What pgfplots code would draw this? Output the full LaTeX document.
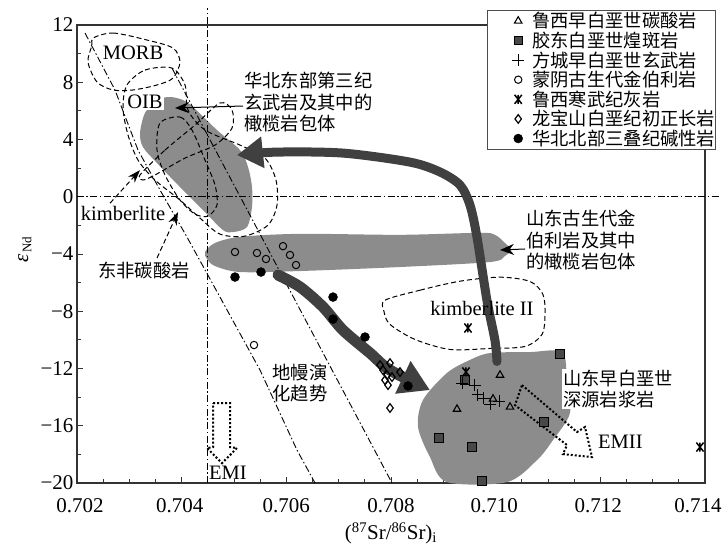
\documentclass[border=0pt]{standalone}
\usepackage{fontspec}
\setmainfont{Liberation Serif}
\newfontfamily\cjk{Noto Sans CJK SC}
\usepackage{pgfplots}
\pgfplotsset{compat=1.18}
\usetikzlibrary{arrows.meta}
\definecolor{fillgray}{RGB}{140,140,140}
\definecolor{arrowgray}{RGB}{64,64,64}
\definecolor{sqgray}{RGB}{72,72,72}
\pgfdeclareplotmark{zhe}{%
  \pgfpathmoveto{\pgfqpoint{-0.8\pgfplotmarksize}{-\pgfplotmarksize}}%
  \pgfpathlineto{\pgfqpoint{0.8\pgfplotmarksize}{\pgfplotmarksize}}%
  \pgfpathmoveto{\pgfqpoint{-0.8\pgfplotmarksize}{\pgfplotmarksize}}%
  \pgfpathlineto{\pgfqpoint{0.8\pgfplotmarksize}{-\pgfplotmarksize}}%
  \pgfpathmoveto{\pgfqpoint{0pt}{-\pgfplotmarksize}}%
  \pgfpathlineto{\pgfqpoint{0pt}{\pgfplotmarksize}}%
  \pgfusepathqstroke}
\tikzset{
  dd/.style={black, line width=0.9pt, dash pattern=on 7pt off 2.5pt on 1.5pt off 2.5pt},
  dsh/.style={black, line width=1pt, dash pattern=on 5pt off 3pt},
  dtt/.style={black, line width=2pt, dash pattern=on 2pt off 2pt},
  cn/.style={font=\cjk\fontsize{18.3}{21.5}\selectfont, align=left, inner sep=1pt},
  lt/.style={font=\fontsize{20.5}{22}\selectfont, inner sep=1pt},
}
\pgfplotsset{lg/.style={legend image code/.code={\path[draw=none,fill=none] (0pt,-5pt) rectangle (45pt,5pt); \draw[##1] plot coordinates {(31pt,0pt)};}}}
\newcommand{\legent}[1]{\addlegendentry{#1\hspace{20pt}}}
\begin{document}
\begin{tikzpicture}
\useasboundingbox (-77pt,-69pt) rectangle (646pt,483pt);
\begin{axis}[
  at={(0pt,0pt)}, anchor=south west,
  scale only axis, width=628pt, height=458pt,
  xmin=0.702, xmax=0.714, ymin=-20, ymax=12,
  clip=false,
  xtick={0.702,0.704,0.706,0.708,0.710,0.712,0.714},
  xticklabels={\hspace{6pt}0.702,\hspace{-4pt}0.704,0.706,0.708,\hspace{-3pt}0.710,\hspace{-4pt}0.712,\hspace{-14pt}0.714},
  ytick={-20,-16,-12,-8,-4,0,4,8,12},
  yticklabels={−20,−16,−12,−8,−4,0,4,8,12},
  minor x tick num=3, minor y tick num=1,
  tick align=inside, tick pos=left,
  major tick length=6pt, minor tick length=4pt,
  axis line style={line width=1.3pt, black!80},
  every tick/.style={black!80, line width=0.8pt},
  ticklabel style={font=\fontsize{21}{21}\selectfont},
  xticklabel style={yshift=-12pt},
  xlabel={(\textsuperscript{87}Sr/\textsuperscript{86}Sr)\textsubscript{i}},
  xlabel style={at={(axis description cs:0.5,-0.11)}, anchor=center, font=\fontsize{21}{21}\selectfont},
  ylabel={{\itshape ε}\kern1pt\raisebox{-0.35ex}{\fontsize{13}{13}\selectfont Nd}},
  ylabel style={at={(axis description cs:-0.083,0.51)}, anchor=center, font=\fontsize{21}{21}\selectfont},
  legend style={at={(0.6529,1.0328)}, anchor=north west, draw=black!70, fill=white,
    font=\cjk\fontsize{18.3}{20}\selectfont, inner xsep=0pt, inner ysep=1pt,
    cells={anchor=west}, nodes={inner xsep=0pt, inner ysep=1.3pt}},
]
% ---- gray fields
\addplot[forget plot, draw=none, fill=fillgray, smooth cycle] coordinates {
(0.703204,4.45) (0.703299,5.85) (0.703529,6.76) (0.703777,6.97) (0.704025,6.76) (0.704217,6.27)
(0.704675,4.66) (0.705115,3.26) (0.705268,2.08) (0.705344,0.68) (0.705344,-0.72) (0.705248,-2.12)
(0.704981,-2.47) (0.704790,-2.33) (0.704408,-0.93) (0.703968,0.68) (0.703529,2.35) (0.703261,3.47)};
\addplot[forget plot, draw=none, fill=fillgray, smooth cycle] coordinates {
(0.704446,-3.86) (0.704637,-3.23) (0.705115,-2.80) (0.706261,-2.59) (0.708172,-2.66) (0.709701,-2.52)
(0.709987,-2.66) (0.710178,-3.23) (0.710293,-3.72) (0.710178,-4.14) (0.709892,-4.56) (0.708172,-4.91)
(0.706261,-5.19) (0.705115,-5.26) (0.704637,-4.84) (0.704484,-4.35)};
\addplot[forget plot, draw=none, fill=fillgray, smooth cycle, tension=0.5] coordinates {
(0.709892,-10.92) (0.710656,-10.85) (0.711267,-10.85) (0.711363,-12.80) (0.711420,-15.11) (0.711095,-17.00)
(0.710790,-18.40) (0.710216,-19.94) (0.709070,-19.94) (0.708745,-18.19) (0.708516,-16.09) (0.708611,-14.20)
(0.709070,-12.31) (0.709509,-11.40)};
% ---- reference lines
\addplot[forget plot, dd] coordinates {(0.702,0) (0.71429,0)};
\addplot[forget plot, dd] coordinates {(0.7045,-20) (0.7045,13.2)};
\addplot[forget plot, dd] coordinates {(0.702153,11.44) (0.702726,7.46) (0.703166,3.26) (0.703586,0.47) (0.704102,-2.82) (0.704732,-7.01) (0.705497,-12.11) (0.706204,-17.70) (0.706548,-20)};
\addplot[forget plot, dd] coordinates {(0.703815,8.99) (0.708019,-20)};
% ---- dashed fields
\addplot[forget plot, dsh, smooth cycle] coordinates {
(0.702306,11.09) (0.702688,11.44) (0.703338,10.95) (0.703834,10.39) (0.703968,9.41) (0.703834,8.29)
(0.703529,7.81) (0.703070,7.46) (0.702688,7.46) (0.702382,8.02) (0.702210,9.41) (0.702287,10.60)};
\addplot[forget plot, dsh, smooth cycle] coordinates {
(0.702955,7.81) (0.703299,8.85) (0.703815,8.99) (0.704064,7.81) (0.704121,6.06) (0.704446,4.66)
(0.705115,3.61) (0.705592,2.70) (0.705802,1.17) (0.705822,-0.58) (0.705650,-1.98) (0.705210,-2.75)
(0.704732,-2.61) (0.704350,-1.49) (0.703968,-0.23) (0.703490,1.17) (0.703166,2.56) (0.702975,4.31) (0.702879,6.20)};
\addplot[forget plot, dsh, smooth cycle] coordinates {
(0.703586,5.15) (0.703968,5.57) (0.704197,4.66) (0.704446,2.56) (0.704637,0.82) (0.704675,-0.58)
(0.704503,-1.35) (0.704255,-1.21) (0.703968,-0.23) (0.703682,1.52) (0.703529,3.26)};
\addplot[forget plot, dsh, smooth cycle] coordinates {
(0.703204,1.52) (0.703682,3.26) (0.704255,5.01) (0.704732,6.55) (0.704962,6.06) (0.704962,4.80)
(0.704637,3.61) (0.704064,2.70) (0.703490,1.52) (0.703261,1.17)};
\addplot[forget plot, dsh, smooth cycle] coordinates {
(0.707885,-7.23) (0.708554,-6.53) (0.709318,-5.90) (0.710083,-5.62) (0.710656,-5.92) (0.710904,-6.83)
(0.710943,-8.22) (0.710885,-9.62) (0.710560,-10.46) (0.709892,-10.60) (0.709127,-10.67) (0.708459,-9.97)
(0.707981,-8.92) (0.707866,-8.01)};
% ---- dotted hollow arrows EMI / EMII
\addplot[forget plot, dtt] coordinates {
(0.704599,-14.42) (0.704924,-14.42) (0.704924,-17.49) (0.705057,-17.56) (0.704771,-18.61)
(0.704484,-17.56) (0.704599,-17.49) (0.704599,-14.42)};
\addplot[forget plot, dtt] coordinates {
(0.710503,-13.16) (0.711554,-16.44) (0.711707,-16.09) (0.711841,-18.19) (0.711286,-17.98)
(0.711363,-17.35) (0.710369,-14.56) (0.710503,-13.16)};
% ---- leaders
\addplot[forget plot, dsh, -{Stealth[length=13pt,width=9pt]}] coordinates {(0.702631,-0.45) (0.703204,1.86)};
\addplot[forget plot, dsh, -{Stealth[length=13pt,width=9pt]}] coordinates {(0.703529,-4.28) (0.703930,-1.07)};
\addplot[forget plot, black, line width=1pt, -{Stealth[length=14pt,width=11pt]}] coordinates {(0.705172,6.34) (0.703873,6.20)};
\addplot[forget plot, black, line width=1pt, -{Stealth[length=14pt,width=11pt]}] coordinates {(0.710561,-3.65) (0.710083,-3.72)};
% ---- big evolution arrows
\addplot[forget plot, arrowgray, line width=9pt, line cap=round, smooth, -{Triangle[length=26pt,width=30pt]}] coordinates {
(0.710025,-11.51) (0.709987,-10.04) (0.709834,-7.25) (0.709643,-2.82) (0.709509,-0.58) (0.709318,0.82)
(0.708936,1.73) (0.708363,2.42) (0.707083,3.05) (0.705822,3.12) (0.705057,2.91)};
\addplot[forget plot, arrowgray, line width=11pt, line cap=round, smooth, -{Triangle[length=30pt,width=34pt]}] coordinates {
(0.705841,-5.47) (0.706261,-6.30) (0.706701,-7.70) (0.707083,-9.32) (0.707599,-10.92) (0.707981,-12.11) (0.708745,-13.51)};
% ---- data
\addplot[only marks, mark=triangle, mark size=4.3pt, line width=1.1pt, black, lg] coordinates {
(0.710083,-12.46) (0.709261,-14.84) (0.709949,-14.13) (0.710274,-14.69)};
\legent{鲁西早白垩世碳酸岩}
\addplot[only marks, mark=square*, mark size=4.2pt, line width=0.8pt, draw=black, fill=sqgray, lg] coordinates {
(0.711229,-10.99) (0.709414,-12.80) (0.710924,-15.74) (0.708917,-16.86) (0.709548,-17.49) (0.709739,-19.85)};
\legent{胶东白垩世煌斑岩}
\addplot[only marks, mark=+, mark size=6pt, line width=1pt, black, lg] coordinates {
(0.709357,-13.02) (0.709605,-13.17) (0.709777,-14.08) (0.709892,-14.50) (0.710064,-14.29) (0.709662,-13.85)};
\legent{方城早白垩世玄武岩}
\addplot[only marks, mark=o, mark size=3.7pt, line width=1pt, black, lg] coordinates {
(0.705019,-3.86) (0.705439,-3.93) (0.705611,-4.35) (0.705936,-3.45) (0.706070,-4.07) (0.706185,-4.77) (0.705382,-10.36)};
\legent{蒙阴古生代金伯利岩}
\addplot[only marks, mark=zhe, mark size=4.5pt, line width=1.5pt, black, lg] coordinates {
(0.709471,-9.17) (0.709433,-12.24) (0.713904,-17.49)};
\legent{鲁西寒武纪灰岩}
\addplot[only marks, mark=diamond, mark size=4.3pt, line width=1.2pt, black, lg] coordinates {
(0.707790,-11.76) (0.707981,-11.62) (0.707847,-12.11) (0.707924,-12.46) (0.708019,-12.60)
(0.707885,-12.81) (0.707943,-13.16) (0.708172,-12.25) (0.707981,-14.76)};
\legent{龙宝山白垩纪初正长岩}
\addplot[only marks, mark=*, mark size=4.5pt, black, lg] coordinates {
(0.705019,-5.61) (0.705516,-5.26) (0.706892,-7.01) (0.706892,-8.55) (0.707503,-9.80) (0.708325,-13.22)};
\legent{华北北部三叠纪碱性岩}
% ---- labels
\node[lt] at (axis cs:0.703070,10.04) {MORB};
\node[lt, fill=white] at (axis cs:0.703299,6.62) {OIB};
\node[lt] at (axis cs:0.702879,-1.14) {kimberlite};
\node[lt] at (axis cs:0.709739,-7.78) {kimberlite II};
\node[lt] at (axis cs:0.704885,-19.31) {EMI};
\node[lt, anchor=west] at (axis cs:0.711936,-17.14) {EMII};
\node[cn] at (axis cs:0.703280,-5.13) {东非碳酸岩};
\node[cn] at (axis cs:0.706261,-13.03) {地幔演\\化趋势};
\node[cn, anchor=west] at (axis cs:0.705172,6.61) {华北东部第三纪\\玄武岩及其中的\\橄榄岩包体};
\node[cn, anchor=west] at (axis cs:0.710561,-3.03) {山东古生代金\\伯利岩及其中\\的橄榄岩包体};
\node[cn, anchor=west, fill=white] at (axis cs:0.711267,-13.45) {山东早白垩世\\深源岩浆岩};
\end{axis}
\end{tikzpicture}
\end{document}
